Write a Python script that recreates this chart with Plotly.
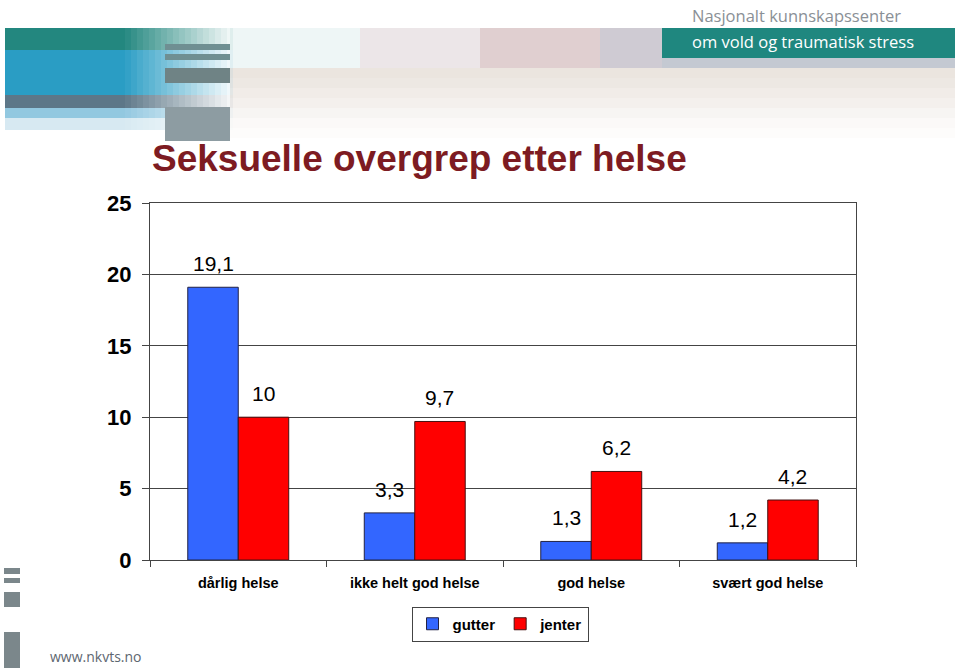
import plotly.graph_objects as go

categories = ["dårlig helse", "ikke helt god helse", "god helse", "svært god helse"]
gutter = [19.1, 3.3, 1.3, 1.2]
jenter = [10, 9.7, 6.2, 4.2]
series_names = ["gutter", "jenter"]
y_ticks = [0, 5, 10, 15, 20, 25]

W, H = 960, 668
L, R, T, B = 150, 104, 203, 108
PW, PH = W - L - R, H - T - B


def px(x):
    return (x - L) / PW


def py(y):
    return (H - B - y) / PH


def label(v):
    s = f"{v:g}"
    return s.replace(".", ",")


fig = go.Figure()
fig.add_trace(go.Bar(x=categories, y=gutter, name=f"<b>{series_names[0]}</b>",
                     marker=dict(color="#3366FF", line=dict(color="#222244", width=1))))
fig.add_trace(go.Bar(x=categories, y=jenter, name=f"<b>{series_names[1]}</b>",
                     marker=dict(color="#FF0000", line=dict(color="#441111", width=1))))

# value labels above the bars
annotations = []
for vals, shift in [(gutter, -25), (jenter, 25)]:
    for c, v in zip(categories, vals):
        annotations.append(dict(x=c, y=v, xref="x", yref="y", text=label(v), showarrow=False,
                                xshift=shift, yshift=10, yanchor="bottom",
                                font=dict(family="Liberation Sans, Arial", size=21, color="black")))

# header / logo texts
annotations.append(dict(x=px(690), y=py(15), xref="paper", yref="paper", text="Nasjonalt kunnskapssenter",
                        showarrow=False, xanchor="left", yanchor="middle",
                        font=dict(family="Open Sans", size=16.5, color="#8a9096")))
annotations.append(dict(x=px(690), y=py(41), xref="paper", yref="paper", text="om vold og traumatisk stress",
                        showarrow=False, xanchor="left", yanchor="middle",
                        font=dict(family="Open Sans", size=16.5, color="white")))
annotations.append(dict(x=px(48), y=py(656), xref="paper", yref="paper", text="www.nkvts.no",
                        showarrow=False, xanchor="left", yanchor="middle",
                        font=dict(family="Open Sans", size=14, color="#5d6670")))

# decorative header shapes (pixel boxes -> paper coords)
shapes = []


def box(x0, y0, x1, y1, color, opacity=1.0):
    shapes.append(dict(type="rect", xref="paper", yref="paper", x0=px(x0), x1=px(x1),
                       y0=py(y1), y1=py(y0), fillcolor=color, opacity=opacity,
                       line=dict(width=0), layer="below"))


# light beige band fading downwards
for i, op in enumerate([0.9, 0.8, 0.65, 0.5, 0.35, 0.2, 0.1]):
    box(230, 68 + i * 10, 955, 78 + i * 10, "#e9e2dc", op)
# upper strip: whitish -> rose -> grey-blue
box(230, 28, 360, 68, "#eef6f6", 1)
box(360, 28, 480, 68, "#ece6e8", 1)
box(480, 28, 600, 68, "#e0cfd0", 1)
box(600, 28, 662, 68, "#cfcbd3", 1)
box(662, 28, 955, 68, "#c4c9d2", 1)
# left teal/blue fade
for i in range(38):
    x0 = 5 + i * 6
    op = 1.0 if x0 < 120 else max(0.0, 1 - (x0 - 120) / 115)
    box(x0, 28, x0 + 6, 50, "#23877f", op)
    box(x0, 50, x0 + 6, 95, "#2a9dc4", op)
    box(x0, 95, x0 + 6, 108, "#34556a", op * 0.8)
    box(x0, 108, x0 + 6, 118, "#4aa3cc", op * 0.6)
    box(x0, 118, x0 + 6, 130, "#9cc9de", op * 0.4)
# grey squares near the title
box(165, 44, 230, 50, "#6f8f92")
box(165, 54, 230, 60, "#6f8f92")
box(165, 68, 230, 83, "#6f8385")
box(165, 107, 230, 141, "#8d9ca2")
# teal logo box
box(662, 28, 955, 58, "#1f877f")
# bottom-left grey squares
box(4, 568, 20, 574, "#7b878b")
box(4, 578, 20, 583, "#7b878b")
box(4, 592, 20, 607, "#7b878b")
box(4, 632, 20, 668, "#7b878b")

fig.update_layout(
    width=W, height=H,
    margin=dict(l=L, r=R, t=T, b=B),
    paper_bgcolor="white", plot_bgcolor="white",
    barmode="group", bargap=0.428, bargroupgap=0,
    title=dict(text="<b>Seksuelle overgrep etter helse</b>", x=152 / W, xanchor="left",
               y=1 - 158 / H, yanchor="middle",
               font=dict(family="Liberation Sans, Arial", size=37, color="#7d1b22")),
    font=dict(family="Liberation Sans, Arial", color="black"),
    xaxis=dict(type="category", tickson="boundaries", ticks="outside", ticklen=6, tickcolor="#444",
               showline=True, linecolor="#444", linewidth=1, mirror=True, showgrid=False,
               tickfont=dict(size=14.5, color="black"), ticklabelstandoff=10,
               tickvals=categories, ticktext=[f"<b>{c}</b>" for c in categories]),
    yaxis=dict(range=[0, 25], tickvals=y_ticks, ticktext=[f"<b>{t}</b>" for t in y_ticks],
               ticks="outside", ticklen=7, tickcolor="#444", showline=True, linecolor="#444",
               linewidth=1, mirror=True, showgrid=True, gridcolor="#444", gridwidth=1,
               tickfont=dict(size=22, color="black"), ticklabelstandoff=6, zeroline=False),
    legend=dict(orientation="h", x=px(500), xanchor="center", y=py(624), yanchor="middle",
                bordercolor="#444", borderwidth=1, bgcolor="white",
                font=dict(size=15, color="black"), itemwidth=30, tracegroupgap=0),
    annotations=annotations,
    shapes=shapes,
    showlegend=True,
)

fig.write_html("out.html", config={"displayModeBar": False},
               post_script="document.body.style.margin='0';document.body.style.overflow='hidden';")
